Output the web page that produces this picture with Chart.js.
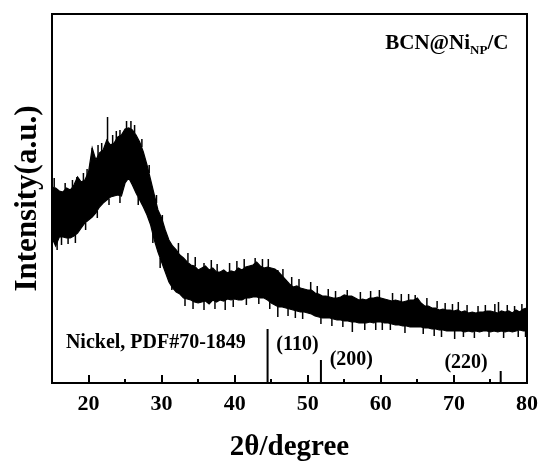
<!DOCTYPE html>
<html><head><meta charset="utf-8">
<script src="https://cdn.jsdelivr.net/npm/chart.js@4/dist/chart.umd.min.js"></script>
<style>html,body{margin:0;padding:0;background:#fff;overflow:hidden}</style>
</head><body>
<canvas id="c" width="546" height="461"></canvas>
<script>
// 2θ positions (degrees) of the sampled band
const twoTheta = [15,15.5,16,16.5,17,17.5,18,18.5,19,19.5,
20,20.5,21,21.5,22,22.5,23,23.5,24,24.5,
25,25.5,26,26.5,27,27.5,28,28.5,29,29.5,
30,30.5,31,31.5,32,32.5,33,33.5,34,34.5,
35,35.5,36,36.5,37,37.5,38,38.5,39,39.5,
40,40.5,41,41.5,42,42.5,43,43.5,44,44.5,
45,45.5,46,46.5,47,47.5,48,48.5,49,49.5,
50,50.5,51,51.5,52,52.5,53,53.5,54,54.5,
55,55.5,56,56.5,57,57.5,58,58.5,59,59.5,
60,60.5,61,61.5,62,62.5,63,63.5,64,64.5,
65,65.5,66,66.5,67,67.5,68,68.5,69,69.5,
70,70.5,71,71.5,72,72.5,73,73.5,74,74.5,
75,75.5,76,76.5,77,77.5,78,78.5,79,79.5,80];
// upper edge of the noisy XRD trace (a.u.)
const upperEnvelope = [196,195,192,191,195,193,198,206,201,203,
211,235,223,230,233,243,238,240,246,248,
254,255,253,248,241,231,218,203,188,173,
165,153,143,137,133,128,125,121,118,117,
113,115,117,113,115,111,111,113,110,112,
111,115,113,116,117,118,121,117,115,116,
115,114,111,107,103,99,96,97,95,94,
93,93,90,89,87,87,86,85,85,86,
88,87,87,85,83,84,83,85,85,86,
85,84,83,82,83,82,81,82,83,83,
85,80,77,77,75,75,73,74,73,73,
72,73,71,72,70,71,70,71,71,72,
72,71,70,72,71,72,70,73,71,74,75];
// lower edge of the noisy XRD trace (a.u.)
const lowerEnvelope = [145,137,146,146,145,145,147,150,155,160,
163,166,170,176,180,183,186,187,188,187,
200,205,198,190,183,176,168,158,143,131,
121,111,101,95,91,89,85,84,83,81,
80,81,82,79,83,81,83,82,84,83,
84,83,83,85,85,86,86,85,85,83,
80,78,76,76,75,74,73,72,71,71,
70,69,67,66,65,65,65,64,63,63,
62,62,61,61,60,60,60,61,60,61,
61,60,60,59,58,58,57,57,56,56,
56,56,55,55,54,54,53,53,52,52,
52,52,52,51,52,51,52,51,52,52,
51,52,51,52,51,52,51,52,53,52,52];
// isolated noise spikes: angle, start and end intensity
const spikeAngles = [15.7,18.4,20.5,22.6,30.1,31.4,35.8,35.8,38.7,42.8,45.9,45.9,50.4,55.4,56.1,60.2,64.7,70.1,70.6,76.1,
15.3,16.8,17.8,19.3,19.8,21.3,21.8,23.3,23.8,24.3,25.2,25.8,26.3,27.3,28.3,29.3,
16.3,17.2,18.2,19.6,21.2,22.8,24.3,26.8,28.8,29.8,
32.3,33.6,34.6,36.8,37.6,39.3,40.3,41.3,43.8,44.6,46.6,47.8,48.8,51.3,52.8,53.8,57.2,58.6,59.8,61.6,62.8,63.8,66.3,67.7,68.8,69.8,71.8,73.3,74.3,75.6,77.3,78.3,79.3,
33.2,34.3,37.3,39.8,41.6,43.3,44.8,47.3,48.3,49.3,51.8,53.3,54.8,57.8,59.3,61.3,63.3,65.8,67.3,68.3,71.3,72.8,74.8,76.8,78.8,79.8];
const spikeFrom = [145,195,215,240,150,110,105,90,90,110,100,80,88,80,65,65,75,60,65,65,
196,193,196,202,206,226,231,239,243,247,254,254,250,236,210,180,
146,145,148,160,172,184,187,186,150,125,
130,121,117,114,111,111,112,115,116,115,106,97,96,89,86,85,83,85,85,82,81,82,77,75,73,72,71,70,71,71,71,70,72,
85,82,82,83,85,86,82,75,73,71,66,64,63,60,60,60,57,56,54,53,52,51,52,51,52,52];
const spikeTo = [133,206,235,266,168,93,120,73,73,125,113,66,101,93,51,53,88,44,81,81,
205,200,203,210,214,238,240,248,252,253,262,262,258,244,218,188,
138,139,140,153,165,178,180,178,140,115,
140,130,126,123,119,120,122,124,124,124,114,106,104,97,94,92,91,92,93,90,89,89,85,82,80,79,78,77,78,79,78,77,79,
77,74,74,76,78,79,74,67,65,64,59,57,56,53,53,53,50,49,47,46,46,45,46,45,46,46];
// Nickel reference pattern PDF#70-1849
const refAngles = [44.5, 51.8, 76.4];
const refIntensity = [54, 23, 12];
const refLabels = ['(110)', '(200)', '(220)'];
const refName = 'Nickel, PDF#70-1849';
const sampleMain = 'BCN@Ni';
const sampleSub = 'NP';
const sampleTail = '/C';
const xTickValues = [20, 30, 40, 50, 60, 70, 80];
const xTickLabels = ['20', '30', '40', '50', '60', '70', '80'];
const xMinorTicks = [25, 35, 45, 55, 65, 75];
const xTitle = '2θ/degree';
const yTitle = 'Intensity(a.u.)';

const FONT = "'Liberation Serif', 'Times New Roman', Times, serif";
const pts = (xs, ys) => xs.map((x, i) => ({x: x, y: ys[i]}));
const spikePts = [];
spikeAngles.forEach((a, i) => { spikePts.push({x: a, y: spikeFrom[i]}, {x: a, y: spikeTo[i]}, {x: a, y: null}); });
const refPts = [];
refAngles.forEach((a, i) => { refPts.push({x: a, y: 0}, {x: a, y: refIntensity[i]}, {x: a, y: null}); });

const deco = {
  id: 'deco',
  afterDraw(chart) {
    const {ctx, chartArea: ca, scales: {x, y}} = chart;
    ctx.save();
    ctx.strokeStyle = '#000';
    ctx.lineWidth = 2;
    ctx.strokeRect(ca.left, ca.top, ca.right - ca.left, ca.bottom - ca.top);
    ctx.beginPath();
    xTickValues.forEach(v => { const px = Math.round(x.getPixelForValue(v)); ctx.moveTo(px, ca.bottom); ctx.lineTo(px, ca.bottom - 8); });
    xMinorTicks.forEach(v => { const px = Math.round(x.getPixelForValue(v)); ctx.moveTo(px, ca.bottom); ctx.lineTo(px, ca.bottom - 4); });
    ctx.stroke();
    ctx.fillStyle = '#000';
    ctx.textBaseline = 'alphabetic';
    ctx.textAlign = 'left';
    ctx.font = 'bold 20px ' + FONT;
    ctx.fillText(refName, x.getPixelForValue(16.9), y.getPixelForValue(35));
    const labelPos = [[45.7, 33], [53.0, 18], [68.7, 15]];
    refLabels.forEach((t, i) => ctx.fillText(t, x.getPixelForValue(labelPos[i][0]), y.getPixelForValue(labelPos[i][1])));
    let sx = x.getPixelForValue(60.6), sy = y.getPixelForValue(334);
    ctx.font = 'bold 21px ' + FONT;
    ctx.fillText(sampleMain, sx, sy);
    sx += ctx.measureText(sampleMain).width;
    ctx.font = 'bold 13px ' + FONT;
    ctx.fillText(sampleSub, sx, sy + 5);
    sx += ctx.measureText(sampleSub).width;
    ctx.font = 'bold 21px ' + FONT;
    ctx.fillText(sampleTail, sx, sy);
    ctx.restore();
  }
};

new Chart(document.getElementById('c'), {
  type: 'line',
  data: {
    datasets: [
      {data: pts(twoTheta, upperEnvelope), borderColor: '#000', backgroundColor: '#000', borderWidth: 1.2, fill: '+1', pointRadius: 0, tension: 0},
      {data: pts(twoTheta, lowerEnvelope), borderColor: '#000', backgroundColor: '#000', borderWidth: 1.2, fill: false, pointRadius: 0, tension: 0},
      {data: spikePts, borderColor: '#000', borderWidth: 1.5, fill: false, pointRadius: 0, spanGaps: false},
      {data: refPts, borderColor: '#000', borderWidth: 2, fill: false, pointRadius: 0, spanGaps: false}
    ]
  },
  options: {
    responsive: false,
    animation: false,
    devicePixelRatio: 1,
    layout: {padding: {left: 0, right: 15, top: 14, bottom: 0}},
    plugins: {legend: {display: false}, tooltip: {enabled: false}},
    scales: {
      x: {
        type: 'linear', min: 15, max: 80, position: 'bottom',
        grid: {display: false, drawTicks: false},
        border: {display: false},
        afterBuildTicks: s => { s.ticks = xTickValues.map(v => ({value: v})); },
        afterFit: s => { s.height = 78; },
        ticks: {
          color: '#000', padding: 8, maxRotation: 0, autoSkip: false,
          font: {family: FONT, size: 22, weight: 'bold', lineHeight: 1.2},
          callback: (v, i) => xTickLabels[i]
        },
        title: {display: true, text: xTitle, color: '#000', padding: 0,
          font: {family: FONT, size: 29, weight: 'bold', lineHeight: 0.9}}
      },
      y: {
        type: 'linear', min: 0, max: 369,
        grid: {display: false, drawTicks: false},
        border: {display: false},
        ticks: {display: false},
        afterFit: s => { s.width = 52; },
        title: {display: true, text: yTitle, color: '#000', padding: {top: 12, bottom: 0},
          font: {family: FONT, size: 31, weight: 'bold', lineHeight: 1}}
      }
    }
  },
  plugins: [deco]
});
</script>
</body></html>
